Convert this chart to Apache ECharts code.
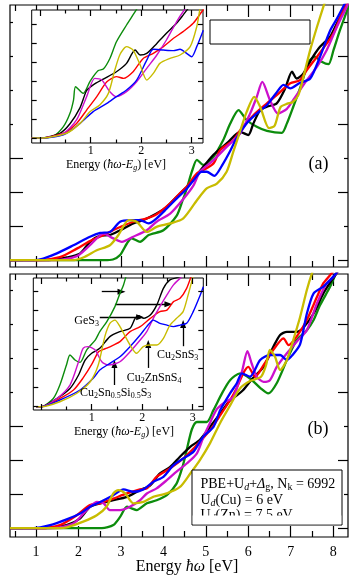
<!DOCTYPE html>
<html><head><meta charset="utf-8">
<script src="https://cdn.jsdelivr.net/npm/echarts@6/dist/echarts.min.js"></script>
<style>html,body{margin:0;padding:0;background:#fff}#c{width:349px;height:579px}</style>
</head><body><div id="c"></div>
<script>
// ---------- data: panel (a) main ----------
const a_green = [[0.385,0],[2.6,0],[2.81,0.02],[2.98,0.15],[3.14,0.49],[3.25,0.64],[3.45,0.54],[3.65,0.74],[4.0,0.88],[4.31,1.3],[4.45,1.75],[4.55,2.1],[4.67,2.6],[4.79,2.95],[4.94,2.8],[5.18,3.04],[5.41,3.53],[5.57,4.0],[5.77,4.41],[5.96,4.12],[6.2,3.92],[6.44,3.8],[6.79,3.74],[6.91,4.02],[7.06,4.51],[7.26,5.2],[7.42,5.83],[7.57,5.98],[7.73,5.83],[7.89,5.76],[8.01,6.18],[8.16,6.76],[8.36,7.45],[8.45,7.8]];
const a_black = [[0.385,0],[1.3,0],[1.72,0.08],[2.04,0.2],[2.27,0.54],[2.51,0.72],[2.74,0.74],[2.98,0.88],[3.29,1.08],[3.53,1.18],[3.84,1.37],[4.08,1.57],[4.39,1.96],[4.63,2.25],[4.86,2.62],[5.18,3.1],[5.49,3.43],[5.81,3.77],[6.0,3.68],[6.12,4.02],[6.28,4.41],[6.44,4.51],[6.67,4.61],[6.87,5.05],[7.03,5.54],[7.14,5.34],[7.3,5.49],[7.5,5.93],[7.69,6.27],[7.93,6.57],[8.09,6.96],[8.35,7.55]];
const a_red = [[0.385,0],[1.05,0],[1.56,0.09],[1.96,0.34],[2.27,0.56],[2.59,0.74],[2.9,0.93],[3.29,1.13],[3.61,1.23],[3.84,1.35],[4.16,1.67],[4.4,1.98],[4.55,2.16],[4.79,2.55],[4.94,2.65],[5.18,2.84],[5.34,3.24],[5.65,3.53],[5.81,3.82],[6.12,4.26],[6.44,4.61],[6.67,4.85],[6.99,5.2],[7.22,5.29],[7.38,5.59],[7.62,5.98],[7.85,6.37],[8.01,6.67],[8.24,7.35],[8.35,7.6]];
const a_magenta = [[0.385,0],[1.45,0],[1.96,0.12],[2.27,0.44],[2.59,0.78],[2.82,0.64],[3.02,0.54],[3.29,0.69],[3.61,0.88],[3.84,1.13],[4.16,1.37],[4.47,1.8],[4.71,2.2],[4.86,2.6],[5.18,2.94],[5.49,3.33],[5.81,3.73],[6.04,4.3],[6.2,4.8],[6.33,5.24],[6.51,4.71],[6.7,4.31],[6.91,4.45],[7.06,4.71],[7.38,5.29],[7.62,5.69],[7.85,6.18],[8.09,6.86],[8.32,7.45],[8.4,7.7]];
const a_blue = [[0.385,0],[0.95,0],[1.17,0.05],[1.49,0.2],[1.88,0.44],[2.27,0.69],[2.51,0.8],[2.74,0.83],[2.98,1.13],[3.21,1.18],[3.45,1.18],[3.65,1.08],[3.84,1.23],[4.08,1.52],[4.31,1.81],[4.55,2.1],[4.71,2.35],[4.9,2.6],[5.02,2.6],[5.2,2.48],[5.38,2.78],[5.57,3.2],[5.73,3.6],[5.96,4.02],[6.2,4.31],[6.44,4.56],[6.65,4.9],[6.83,5.15],[6.99,5.05],[7.2,5.2],[7.46,5.34],[7.69,5.98],[7.93,6.75],[8.09,7.1],[8.3,7.6]];
const a_yellow = [[0.385,0],[1.85,0],[2.11,0.08],[2.43,0.29],[2.74,0.44],[2.94,0.74],[3.18,1.18],[3.37,1.13],[3.61,0.83],[3.84,0.98],[4.16,1.08],[4.47,1.23],[4.79,1.76],[5.02,2.11],[5.26,2.25],[5.49,2.6],[5.65,3.2],[5.81,3.8],[5.96,4.35],[6.14,4.8],[6.28,4.51],[6.49,3.88],[6.62,3.95],[6.76,4.5],[6.92,4.6],[7.05,4.65],[7.18,4.85],[7.3,5.39],[7.46,6.18],[7.62,6.86],[7.77,7.45],[7.85,7.75]];

// ---------- data: panel (a) inset ----------
const ia_green = [[-0.17,0],[0,0],[0.26,0.1],[0.46,0.6],[0.59,1.3],[0.66,2.0],[0.7,2.7],[0.85,2.35],[0.99,3.0],[1.15,3.55],[1.25,3.63],[1.38,4.19],[1.51,5.07],[1.71,5.95],[1.88,6.65],[1.98,7.09]];
const ia_black = [[-0.17,0],[0,0],[0.39,0.25],[0.59,0.75],[0.79,1.6],[0.92,2.5],[1.05,2.8],[1.25,3.1],[1.51,3.49],[1.71,3.93],[1.88,4.63],[1.98,4.37],[2.11,4.46],[2.31,4.98],[2.5,5.51],[2.7,6.04],[2.83,6.47],[2.93,6.82],[3.05,7.2]];
const ia_red = [[-0.17,0],[0,0],[0.46,0.25],[0.72,0.77],[0.92,1.47],[1.12,2.18],[1.32,2.96],[1.51,3.23],[1.65,3.14],[1.84,3.49],[2.04,4.19],[2.24,4.46],[2.44,4.81],[2.64,5.25],[2.83,5.6],[3.03,6.04],[3.2,6.65],[3.3,7]];
const ia_magenta = [[-0.17,0],[0,0],[0.46,0.25],[0.72,0.95],[0.92,2.18],[1.08,3.14],[1.22,3.05],[1.38,2.44],[1.51,2.18],[1.71,2.44],[1.91,2.96],[2.11,3.67],[2.31,4.37],[2.5,5.16],[2.7,6.12],[2.83,6.65],[3.0,7.2]];
const ia_blue = [[-0.17,0],[0,0],[0.46,0.16],[0.79,0.77],[1.05,1.39],[1.32,1.82],[1.51,2.18],[1.71,2.53],[1.91,3.05],[2.11,4.1],[2.24,4.67],[2.44,4.63],[2.64,4.6],[2.77,4.67],[2.9,4.46],[3.0,4.28],[3.1,4.81],[3.23,5.68]];
const ia_yellow = [[-0.17,0],[0,0],[0.52,0.25],[0.79,0.77],[0.99,1.39],[1.18,1.74],[1.35,2.35],[1.47,3.5],[1.58,4.4],[1.71,4.81],[1.84,4.63],[1.98,3.84],[2.11,3.05],[2.24,3.4],[2.37,3.93],[2.57,4.19],[2.77,4.37],[2.97,4.81],[3.1,5.86],[3.16,6.74],[3.2,7.2]];

// ---------- data: panel (b) main ----------
const b_green = [[0.385,0],[2.55,0],[2.82,0.09],[2.98,0.33],[3.14,0.63],[3.25,0.58],[3.37,0.53],[3.61,0.73],[3.84,0.82],[4.08,0.97],[4.31,1.31],[4.45,1.8],[4.55,2.3],[4.67,2.9],[4.79,3.12],[5.02,3.12],[5.18,3.47],[5.38,3.96],[5.57,4.35],[5.81,4.55],[6.04,4.4],[6.3,4.1],[6.47,3.96],[6.67,4.26],[6.91,4.94],[7.14,5.53],[7.38,5.82],[7.54,6.12],[7.69,6.55],[7.93,7.1],[8.05,7.44],[8.15,7.7]];
const b_black = [[0.385,0],[1.17,0],[1.72,0.09],[2.04,0.29],[2.27,0.63],[2.51,0.73],[2.82,0.82],[3.14,0.92],[3.45,1.12],[3.69,1.26],[3.92,1.61],[4.16,1.8],[4.39,2.1],[4.63,2.39],[4.86,2.6],[5.1,2.98],[5.34,3.37],[5.57,3.76],[5.73,3.9],[5.88,4.06],[6.1,4.4],[6.36,4.74],[6.59,5.33],[6.75,5.68],[6.91,5.77],[7.14,5.77],[7.3,5.9],[7.54,6.31],[7.77,6.9],[7.97,7.29],[8.2,7.7]];
const b_red = [[0.385,0],[1.1,0],[1.56,0.09],[1.96,0.38],[2.27,0.68],[2.51,0.73],[2.82,0.87],[3.14,1.02],[3.45,1.14],[3.61,1.17],[3.84,1.51],[4.16,1.76],[4.47,2.05],[4.71,2.34],[4.9,2.6],[5.1,2.88],[5.34,3.32],[5.57,3.76],[5.72,4.1],[5.88,4.55],[6.0,4.74],[6.16,4.45],[6.36,4.79],[6.59,5.24],[6.83,5.58],[6.95,5.38],[7.14,5.63],[7.38,6.12],[7.62,6.8],[7.77,7.2],[7.93,7.44],[8.1,7.7]];
const b_magenta = [[0.385,0],[1.41,0],[1.88,0.14],[2.19,0.53],[2.43,0.77],[2.59,0.73],[2.74,0.53],[2.98,0.53],[3.21,0.63],[3.45,0.82],[3.61,1.02],[3.84,1.17],[4.08,1.41],[4.31,1.66],[4.55,1.9],[4.79,2.2],[4.95,2.7],[5.1,3.1],[5.26,3.5],[5.45,3.7],[5.65,3.86],[5.85,4.6],[5.98,5.2],[6.08,4.84],[6.2,4.45],[6.36,4.3],[6.51,4.35],[6.67,4.74],[6.91,5.14],[7.14,5.48],[7.38,5.82],[7.62,6.61],[7.85,7.2],[8.01,7.39],[8.2,7.7]];
const b_blue = [[0.385,0],[0.94,0],[1.33,0.09],[1.72,0.26],[2.04,0.43],[2.27,0.63],[2.51,0.77],[2.82,0.97],[3.06,1.14],[3.29,1.07],[3.53,1.14],[3.76,1.36],[4.0,1.51],[4.24,1.85],[4.47,2.05],[4.71,2.25],[4.94,2.69],[5.18,2.98],[5.34,3.47],[5.57,3.96],[5.73,4.26],[5.85,4.55],[6.04,4.45],[6.28,4.94],[6.51,5.09],[6.75,5.09],[6.91,4.94],[7.05,5.1],[7.22,5.4],[7.38,6.3],[7.54,6.9],[7.77,7.1],[8.01,7.4],[8.2,7.7]];
const b_yellow = [[0.385,0],[1.55,0],[1.72,0.02],[2.11,0.19],[2.43,0.38],[2.66,0.63],[2.82,1.02],[2.94,1.12],[3.1,1.02],[3.29,0.73],[3.53,0.77],[3.76,0.92],[4.08,1.02],[4.39,1.21],[4.63,1.6],[4.86,2.0],[5.1,2.5],[5.34,3.1],[5.57,3.6],[5.8,4.1],[6.05,4.33],[6.3,4.45],[6.42,4.8],[6.51,5.24],[6.63,5.04],[6.75,4.65],[6.91,4.94],[7.06,5.53],[7.22,6.2],[7.38,7.0],[7.5,7.49],[7.6,7.8]];

// ---------- data: panel (b) inset ----------
const ib_green = [[-0.1,0],[0,0],[0.24,0.43],[0.37,1.13],[0.5,2.17],[0.57,2.69],[0.67,2.43],[0.77,2.31],[0.9,2.95],[1.07,3.47],[1.16,3.91],[1.3,4.43],[1.46,5.21],[1.56,5.9],[1.63,6.34],[1.69,6.86],[1.75,7.2]];
const ib_black = [[-0.1,0],[0,0],[0.31,0.43],[0.57,0.95],[0.74,1.65],[0.87,2.43],[1.0,2.78],[1.16,3.04],[1.36,3.65],[1.56,3.91],[1.76,4.08],[1.86,4.6],[1.93,4.74],[2.03,4.6],[2.16,4.77],[2.29,5.3],[2.42,6.16],[2.55,6.6],[2.75,6.77],[2.9,7.0]];
const ib_red = [[-0.1,0],[0,0],[0.37,0.43],[0.64,0.87],[0.83,1.5],[1.0,2.2],[1.13,2.85],[1.2,2.95],[1.3,3.05],[1.43,3.21],[1.56,3.39],[1.76,3.91],[1.96,4.17],[2.16,4.6],[2.35,4.95],[2.49,5.03],[2.62,5.47],[2.75,5.64],[2.88,6.16],[2.98,6.86],[3.02,7.1]];
const ib_magenta = [[-0.1,0],[0,0],[0.31,0.43],[0.57,1.13],[0.74,2.34],[0.83,3.04],[0.93,3.13],[1.07,2.95],[1.2,2.34],[1.33,2.17],[1.56,2.34],[1.76,2.86],[1.96,3.47],[2.09,3.91],[2.22,4.6],[2.35,5.21],[2.49,5.82],[2.62,6.34],[2.75,6.68],[2.9,7.0]];
const ib_blue = [[-0.1,0],[0,0],[0.37,0.35],[0.77,0.87],[1.03,1.48],[1.16,1.91],[1.36,2.26],[1.56,2.6],[1.76,3.13],[1.96,3.73],[2.09,4.17],[2.22,4.51],[2.35,4.34],[2.49,4.25],[2.62,4.17],[2.75,4.25],[2.88,4.34],[3.01,4.95],[3.15,5.82],[3.21,6.25]];
const ib_yellow = [[-0.1,0],[0,0],[0.37,0.26],[0.7,0.69],[0.97,1.3],[1.13,2.17],[1.26,3.65],[1.36,4.34],[1.46,4.51],[1.56,4.17],[1.76,3.21],[1.89,2.78],[2.02,3.13],[2.16,3.21],[2.29,3.21],[2.42,3.56],[2.55,4.25],[2.68,4.6],[2.81,4.95],[2.91,5.82],[2.98,6.51],[3.03,7.0]];

// annotation arrows in inset (b) data coordinates [x1,y1,x2,y2]
const arrowsB = [[1.20,5.99,1.59,5.99],[1.46,5.33,2.52,5.33],[1.16,4.66,1.96,4.66],[2.81,3.15,2.81,4.3],[2.12,2.02,2.12,3.27],[1.45,1.13,1.45,2.23]];

// tick values
const mainMajorX = [1,2,3,4,5,6,7,8];
const mainMinorX = [0.5,1.5,2.5,3.5,4.5,5.5,6.5,7.5];
const mainXLabels = [1,2,3,4,5,6,7,8];
const mainYLeftLong = [0,1,2,3];
const mainYLeftShort = [4,5,6,7];
const mainYRightLong = [0,2,4,6];
const mainYRightShort = [1,3,5,7];
const insetMajorX = [0,1,2,3];
const insetMinorX = [0.5,1.5,2.5];
const insetXLabels = [1,2,3];
const insetY = [0,1,2,3,4,5,6];

const COLORS = {green:'#0c8c0c', black:'#000000', red:'#ff0000', magenta:'#cc10cc', blue:'#0000ff', yellow:'#c8bc00'};
const FONT = "'Liberation Serif','Times New Roman',serif";

const grids = [], xAxes = [], yAxes = [], series = [];

function tickAx(gi, pos, min, max, vals, len, z, lab) {
  return {
    type:'value', gridIndex:gi, position:pos, min:min, max:max, z:z,
    axisLine:{show:false, onZero:false},
    splitLine:{show:false},
    minorTick:{show:false},
    axisTick:{show:true, inside:true, length:len, customValues:vals, lineStyle:{color:'#000', width:1.2}},
    axisLabel: lab ? {show:true, customValues:lab.vals, fontFamily:FONT, fontSize:lab.size, color:'#000', margin:lab.margin} : {show:false}
  };
}

function addMain(rect, ymin, ymax, labels, data) {
  const gi = grids.length;
  grids.push(Object.assign({show:true, borderColor:'#000', borderWidth:1.2, backgroundColor:'transparent', z:0, containLabel:false, outerBoundsMode:'none'}, rect));
  const xmin = 0.385, xmax = 8.35;
  const xi = xAxes.length;
  xAxes.push(tickAx(gi,'bottom',xmin,xmax,mainMajorX,11,1, labels ? {vals:mainXLabels,size:14,margin:8} : null));
  xAxes.push(tickAx(gi,'bottom',xmin,xmax,mainMinorX,6,1,null));
  xAxes.push(tickAx(gi,'top',xmin,xmax,mainMajorX,12,1,null));
  xAxes.push(tickAx(gi,'top',xmin,xmax,mainMinorX,6,1,null));
  const yi = yAxes.length;
  yAxes.push(tickAx(gi,'left',ymin,ymax,mainYLeftLong,13,1,null));
  yAxes.push(tickAx(gi,'left',ymin,ymax,mainYLeftShort,3,1,null));
  yAxes.push(tickAx(gi,'right',ymin,ymax,mainYRightLong,10,1,null));
  yAxes.push(tickAx(gi,'right',ymin,ymax,mainYRightShort,4,1,null));
  data.forEach(d => series.push({type:'line', xAxisIndex:xi, yAxisIndex:yi, data:d[1], symbol:'none', showSymbol:false, smooth:0.25, silent:true, animation:false, z:2, lineStyle:{color:COLORS[d[0]], width:2.3}}));
  return {xi, yi};
}

function addInset(rect, xmin, xmax, ymin, ymax, data) {
  const gi = grids.length;
  grids.push(Object.assign({show:true, borderColor:'#000', borderWidth:1, backgroundColor:'#ffffff', z:5, containLabel:false, outerBoundsMode:'none'}, rect));
  const xi = xAxes.length;
  xAxes.push(tickAx(gi,'bottom',xmin,xmax,insetMajorX,6,7,{vals:insetXLabels,size:12,margin:2}));
  xAxes.push(tickAx(gi,'bottom',xmin,xmax,insetMinorX,3.5,7,null));
  xAxes.push(tickAx(gi,'top',xmin,xmax,insetMajorX,6,7,null));
  xAxes.push(tickAx(gi,'top',xmin,xmax,insetMinorX,3.5,7,null));
  const yi = yAxes.length;
  yAxes.push(tickAx(gi,'left',ymin,ymax,insetY,5,7,null));
  yAxes.push(tickAx(gi,'right',ymin,ymax,insetY,5,7,null));
  data.forEach(d => series.push({type:'line', xAxisIndex:xi, yAxisIndex:yi, data:d[1], symbol:'none', showSymbol:false, smooth:0.25, silent:true, animation:false, z:6, lineStyle:{color:COLORS[d[0]], width:1.4}}));
  return {xi, yi};
}

addMain({left:10, top:5, width:338, height:262}, -0.2, 7.5, false,
  [['green',a_green],['black',a_black],['red',a_red],['magenta',a_magenta],['blue',a_blue],['yellow',a_yellow]]);
addInset({left:31.7, top:10, width:171.3, height:133}, -0.168, 3.224, -0.263, 6.74,
  [['green',ia_green],['black',ia_black],['red',ia_red],['magenta',ia_magenta],['blue',ia_blue],['yellow',ia_yellow]]);
addMain({left:10, top:274, width:338, height:263}, -0.26, 7.47, true,
  [['green',b_green],['black',b_black],['red',b_red],['magenta',b_magenta],['blue',b_blue],['yellow',b_yellow]]);
const insB = addInset({left:33.3, top:278, width:170, height:132}, -0.156, 3.21, -0.17, 6.7,
  [['green',ib_green],['black',ib_black],['red',ib_red],['magenta',ib_magenta],['blue',ib_blue],['yellow',ib_yellow]]);

series.push({type:'line', xAxisIndex:insB.xi, yAxisIndex:insB.yi, data:[], silent:true, animation:false, z:8,
  markLine:{silent:true, animation:false, symbol:['none','triangle'], symbolSize:[6,8], label:{show:false},
    lineStyle:{color:'#000', width:1.3, type:'solid'}, emphasis:{disabled:true},
    data: arrowsB.map(a => [{coord:[a[0],a[1]]},{coord:[a[2],a[3]]}])}});

function rich(fs) {
  const lh = Math.round(fs*1.15), sfs = Math.round(fs*0.7);
  return {
    n:{fontFamily:FONT, fontSize:fs, lineHeight:lh, verticalAlign:'middle', fill:'#000'},
    i:{fontFamily:FONT, fontSize:fs, fontStyle:'italic', lineHeight:lh, verticalAlign:'middle', fill:'#000'},
    s:{fontFamily:FONT, fontSize:sfs, lineHeight:Math.round(sfs*0.85), verticalAlign:'bottom', fill:'#000'},
    si:{fontFamily:FONT, fontSize:sfs, fontStyle:'italic', lineHeight:Math.round(sfs*0.85), verticalAlign:'bottom', fill:'#000'}
  };
}
function txt(x, y, text, fs, align, z) {
  return {type:'text', x:x, y:y, z:z||20, silent:true,
    style:{text:text, rich:rich(fs), fontFamily:FONT, fontSize:fs, fill:'#000', align:align||'center', verticalAlign:'middle'}};
}

const graphics = [
  txt(187, 567, '{n|Energy }{i|ħω}{n| [eV]}', 16, 'center', 20),
  txt(116, 165, '{n|Energy (}{i|ħω}{n|-}{i|E}{si|g}{n|) [eV]}', 12, 'center', 20),
  txt(124, 432, '{n|Energy (}{i|ħω}{n|-}{i|E}{si|g}{n|) [eV]}', 12, 'center', 20),
  txt(318.5, 164, '{n|(a)}', 18, 'center', 20),
  txt(318, 429, '{n|(b)}', 18, 'center', 20),
  {type:'rect', z:20, silent:true, shape:{x:210, y:20, width:100, height:24}, style:{fill:'#fff', stroke:'#000', lineWidth:1}},
  {type:'rect', z:20, silent:true, shape:{x:192, y:470, width:150, height:55}, style:{fill:'#fff', stroke:'#000', lineWidth:1}},
  txt(200.5, 484.7, '{n|PBE+U}{si|d}{n|+}{i|Δ}{s|g}{n|, N}{s|k}{n| = 6992}', 14, 'left', 21),
  txt(200.5, 500, '{n|U}{si|d}{n|(Cu) = 6 eV}', 14, 'left', 21),
  txt(200.5, 515.3, '{n|U}{si|d}{n|(Zn) = 7.5 eV}', 14, 'left', 21),
  {type:'rect', z:22, silent:true, shape:{x:192.7, y:515.5, width:148.6, height:8.8}, style:{fill:'#fff'}},
  txt(99, 320.5, '{n|GeS}{s|3}', 12, 'right', 21),
  txt(157, 355, '{n|Cu}{s|2}{n|SnS}{s|3}', 12, 'left', 21),
  txt(126.7, 378, '{n|Cu}{s|2}{n|ZnSnS}{s|4}', 12, 'left', 21),
  txt(80, 393, '{n|Cu}{s|2}{n|Sn}{s|0.5}{n|Si}{s|0.5}{n|S}{s|3}', 12, 'left', 21)
];

const chart = echarts.init(document.getElementById('c'), null, {renderer:'canvas'});
chart.setOption({
  animation:false,
  backgroundColor:'#ffffff',
  grid:grids, xAxis:xAxes, yAxis:yAxes, series:series,
  graphic:{elements:graphics}
});
</script>
</body></html>
